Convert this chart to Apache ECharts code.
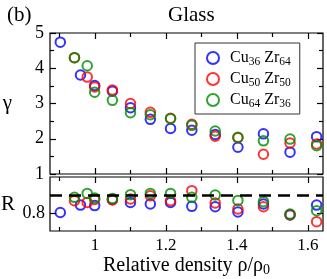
<!DOCTYPE html>
<html><head><meta charset="utf-8">
<script src="https://cdn.jsdelivr.net/npm/echarts@6/dist/echarts.min.js"></script>
<style>html,body{margin:0;padding:0;background:#fff}#c{width:327px;height:279px}</style>
</head><body><div id="c"></div>
<script>
const seriesNames = ['Cu36 Zr64', 'Cu50 Zr50', 'Cu64 Zr36'];
const seriesColors = ['#0000ff', '#ff0000', '#008b00'];
// Cu36Zr64
const xCu36 = [0.902, 0.959, 0.999, 1.049, 1.100, 1.156, 1.213, 1.273, 1.339, 1.403, 1.475, 1.550, 1.625];
const gammaCu36 = [4.74, 3.81, 3.51, 3.35, 2.88, 2.55, 2.29, 2.24, 2.12, 1.76, 2.14, 1.62, 2.06];
const rCu36 = [0.803, 0.844, 0.841, 0.875, 0.859, 0.850, 0.859, 0.837, 0.835, 0.806, 0.850, 0.789, 0.844];
// Cu50Zr50
const xCu50 = [0.942, 0.978, 0.999, 1.049, 1.100, 1.156, 1.213, 1.273, 1.339, 1.403, 1.475, 1.550, 1.625];
const gammaCu50 = [4.30, 3.75, 3.47, 3.38, 3.00, 2.75, 2.58, 2.41, 2.07, 2.03, 1.56, 1.88, 1.85];
const rCu50 = [0.868, 0.859, 0.875, 0.872, 0.878, 0.896, 0.868, 0.924, 0.856, 0.822, 0.835, 0.790, 0.752];
// Cu64Zr36
const xCu64 = [0.942, 0.978, 0.999, 1.049, 1.100, 1.156, 1.213, 1.273, 1.339, 1.403, 1.475, 1.550, 1.625];
const gammaCu64 = [4.30, 4.07, 3.32, 3.09, 2.74, 2.68, 2.57, 2.38, 2.22, 2.04, 1.94, 1.99, 1.80];
const rCu64 = [0.887, 0.909, 0.883, 0.881, 0.902, 0.909, 0.909, 0.887, 0.900, 0.870, 0.863, 0.794, 0.813];

const xMajorTicks = [1.0, 1.2, 1.4, 1.6];
const xMinorTicks = [0.9, 1.1, 1.3, 1.5];
const rTicks = [0.8];
const rReference = 0.9;

const FONT = 'Liberation Serif';
const xMin = 0.873, xMax = 1.643;

const xs = [xCu36, xCu50, xCu64];
const gs = [gammaCu36, gammaCu50, gammaCu64];
const rs = [rCu36, rCu50, rCu64];
const zip = (a, b) => a.map((v, i) => [v, b[i]]);

function xAxisDef(grid, pos, ticks, len, labels) {
  return {
    type: 'value', gridIndex: grid, position: pos, min: xMin, max: xMax,
    axisLine: {show: false}, splitLine: {show: false},
    axisTick: {show: true, inside: true, length: len, customValues: ticks, lineStyle: {color: '#000', width: 1.2}},
    axisLabel: labels ? {show: true, customValues: xMajorTicks, margin: 6, color: '#000', fontFamily: FONT, fontSize: 17,
      formatter: v => (Math.round(v * 10) / 10).toString()} : {show: false},
    name: labels ? '{a|Relative density ρ/ρ}{s|0}' : '',
    nameLocation: 'middle', nameGap: 23,
    nameTextStyle: {rich: {a: {fontFamily: FONT, fontSize: 20, color: '#000'}, s: {fontFamily: FONT, fontSize: 14, color: '#000', padding: [9, 0, 0, 0]}}}
  };
}

const xAxes = [];
for (const g of [0, 1]) {
  xAxes.push(xAxisDef(g, 'bottom', xMajorTicks, 6, g === 1));
  xAxes.push(xAxisDef(g, 'top', xMajorTicks, 6, false));
  xAxes.push(xAxisDef(g, 'bottom', xMinorTicks, 4, false));
  xAxes.push(xAxisDef(g, 'top', xMinorTicks, 4, false));
}
const xIdx = [0, 4];

function gammaAxis(pos, labels) {
  return {
    type: 'value', gridIndex: 0, position: pos, min: 1, max: 5, interval: 1,
    axisLine: {show: false}, splitLine: {show: false},
    axisTick: {show: true, inside: true, length: 6, lineStyle: {color: '#000', width: 1.2}},
    minorTick: {show: true, splitNumber: 2, length: 4, lineStyle: {color: '#000', width: 1.2}},
    axisLabel: labels ? {show: true, margin: 6, color: '#000', fontFamily: FONT, fontSize: 18} : {show: false},
    name: labels ? 'γ' : '', nameLocation: 'middle', nameGap: 38, nameRotate: 0,
    nameTextStyle: {fontFamily: FONT, fontSize: 21, color: '#000'}
  };
}
function rAxis(pos, labels) {
  return {
    type: 'value', gridIndex: 1, position: pos, min: 0.7, max: 1.0,
    axisLine: {show: false}, splitLine: {show: false},
    axisTick: {show: true, inside: true, length: 6, customValues: rTicks, lineStyle: {color: '#000', width: 1.2}},
    axisLabel: labels ? {show: true, margin: 5, customValues: rTicks, color: '#000', fontFamily: FONT, fontSize: 18,
      formatter: v => v.toFixed(1)} : {show: false},
    name: labels ? 'R' : '', nameLocation: 'middle', nameGap: 35, nameRotate: 0,
    nameTextStyle: {fontFamily: FONT, fontSize: 21, color: '#000'}
  };
}
const yAxes = [gammaAxis('left', true), gammaAxis('right', false), rAxis('left', true), rAxis('right', false)];

const series = [];
for (let i = 0; i < 3; i++) {
  series.push({
    type: 'scatter', name: seriesNames[i], xAxisIndex: xIdx[0], yAxisIndex: 0,
    data: zip(xs[i], gs[i]), symbol: 'circle', symbolSize: 9.5,
    itemStyle: {color: 'rgba(0,0,0,0)', borderColor: seriesColors[i], borderWidth: 2},
    emphasis: {disabled: true}
  });
}
series.push({
  type: 'line', name: 'ref', xAxisIndex: xIdx[1], yAxisIndex: 2, data: [], silent: true,
  markLine: {symbol: 'none', silent: true, label: {show: false},
    lineStyle: {color: '#000', width: 2.6, type: [12, 7]}, data: [{yAxis: rReference}]}
});
for (let i = 0; i < 3; i++) {
  series.push({
    type: 'scatter', name: seriesNames[i], xAxisIndex: xIdx[1], yAxisIndex: 2,
    data: zip(xs[i], rs[i]), symbol: 'circle', symbolSize: 9.5,
    itemStyle: {color: 'rgba(0,0,0,0)', borderColor: seriesColors[i], borderWidth: 2},
    emphasis: {disabled: true}
  });
}

const legendRich = {
  f: {fontFamily: FONT, fontSize: 16, color: '#000', lineHeight: 20, padding: [0, 0, 0, 6]},
  m: {fontFamily: FONT, fontSize: 16, color: '#000', lineHeight: 20},
  s: {fontFamily: FONT, fontSize: 11.5, color: '#000', padding: [8, 0, 0, 0]}
};

const option = {
  animation: false,
  backgroundColor: '#fff',
  title: [
    {text: '(b)', left: 2, top: 0, textStyle: {fontFamily: FONT, fontSize: 21, fontWeight: 'normal', color: '#000'}},
    {text: 'Glass', left: 163, top: 0, textStyle: {fontFamily: FONT, fontSize: 21, fontWeight: 'normal', color: '#000'}}
  ],
  grid: [
    {left: 50, top: 33, width: 273, height: 141, show: true, borderColor: '#000', borderWidth: 1.2, containLabel: false, outerBoundsMode: 'none'},
    {left: 50, top: 177, width: 273, height: 54, show: true, borderColor: '#000', borderWidth: 1.2, containLabel: false, outerBoundsMode: 'none'}
  ],
  xAxis: xAxes,
  yAxis: yAxes,
  legend: {
    data: seriesNames, orient: 'vertical', left: 195, top: 43,
    padding: [7, 9, 4, 11], itemGap: 3, itemWidth: 12, itemHeight: 12,
    borderColor: '#333', borderWidth: 1, backgroundColor: '#fff',
    icon: 'circle', selectedMode: false,
    textStyle: {rich: legendRich},
    formatter: name => {
      const p = name.split(' ');
      const a = p[0].match(/([A-Za-z]+)(\d+)/), b = p[1].match(/([A-Za-z]+)(\d+)/);
      return '{f|' + a[1] + '}{s|' + a[2] + '}{m| ' + b[1] + '}{s|' + b[2] + '}';
    }
  },
  series: series
};
const chart = echarts.init(document.getElementById('c'), null, {renderer: 'canvas'});
chart.setOption(option);
</script>
</body></html>
